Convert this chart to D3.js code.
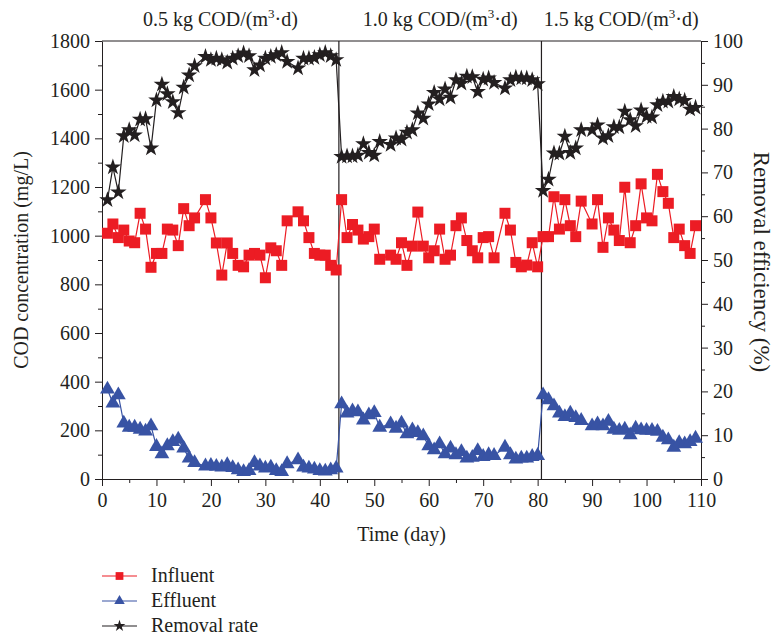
<!DOCTYPE html>
<html lang="en">

<head>
    <meta charset="utf-8">
    <title>COD concentration and removal efficiency</title>
    <script src="https://cdn.jsdelivr.net/npm/d3@7"></script>
    <style>
        body { margin: 0; background: #fff; }
        svg { font-family: "Liberation Serif", "Times New Roman", serif; }
        .axis path, .axis line { stroke: #231f20; }
        .axis text { font-size: 20px; fill: #231f20; font-family: "Liberation Serif", serif; }
    </style>
</head>

<body>
    <div id="chart"></div>
    <script>
        // days with measurements
        const days = [
            1, 2, 3, 4, 5, 6, 7, 8, 9, 10, 11, 12, 13, 14, 15, 16, 17,
            19, 20, 21, 22, 23, 24, 25, 26, 27, 28, 29, 30, 31, 32, 33, 34,
            36, 37, 38, 39, 40, 41, 42, 43, 44, 45, 46, 47, 48, 49, 50, 51,
            53, 54, 55, 56, 57, 58, 59, 60, 61, 62, 63, 64, 65, 66, 67, 68, 69, 70, 71, 72,
            74, 75, 76, 77, 78, 79, 80, 81, 82, 83, 84, 85, 86, 87, 88,
            90, 91, 92, 93, 94, 95, 96, 97, 98, 99, 100, 101, 102, 103, 104, 105, 106, 107, 108, 109
        ];
        // mg/L
        const influent = [
            1010, 1048, 992, 1023, 978, 971, 1092, 1027, 870, 927, 927, 1027, 1023, 959, 1111, 1041, 1073,
            1148, 1073, 970, 838, 970, 927, 878, 872, 920, 927, 920, 827, 950, 938, 878, 1061,
            1098, 1061, 992, 927, 920, 920, 878, 859, 1148, 992, 1046, 1023, 986, 996, 1027, 903,
            920, 903, 971, 878, 957, 1097, 957, 909, 938, 1027, 903, 920, 1041, 1073, 980, 938, 909, 992, 996, 909,
            1092, 1023, 890, 872, 879, 971, 872, 996, 996, 1160, 1027, 1148, 1041, 996, 1142,
            1048, 1148, 952, 1073, 1023, 980, 1199, 971, 1041, 1213, 1073, 1061, 1252, 1181, 1133, 992, 1027, 959, 927, 1041
        ];
        const effluent = [
            369, 311, 345, 229, 212, 212, 204, 196, 218, 133, 103, 136, 153, 163, 126, 85, 67,
            53, 55, 51, 48, 58, 46, 37, 30, 34, 67, 53, 44, 48, 34, 30, 62,
            78, 48, 44, 40, 34, 32, 37, 44, 308, 270, 279, 275, 242, 263, 272, 212,
            226, 208, 229, 185, 201, 190, 177, 136, 119, 144, 103, 126, 99, 112, 85, 88, 116, 92, 99, 96,
            130, 99, 81, 85, 85, 92, 96, 345, 325, 300, 270, 256, 270, 252, 240,
            218, 226, 218, 236, 204, 199, 204, 181, 208, 201, 199, 199, 195, 171, 160, 130, 149, 144, 153, 167
        ];
        // %
        const removal_rate = [
            63.7, 71.2, 65.5, 78.3, 79.7, 78.5, 82.1, 82.2, 75.5, 86.5, 90.1, 87.9, 86.1, 83.6, 89.4, 92.2, 94.3,
            96.4, 95.7, 96.0, 95.7, 95.1, 96.0, 96.6, 97.2, 96.6, 93.4, 94.5, 96.0, 96.4, 96.8, 97.3, 95.3,
            93.8, 96.0, 96.0, 96.2, 96.8, 97.3, 96.6, 95.7, 73.6, 73.7, 73.7, 73.9, 76.5, 74.5, 73.9, 77.0,
            76.3, 77.8, 77.5, 79.1, 79.7, 83.5, 82.3, 85.6, 88.2, 86.7, 89.0, 87.1, 91.1, 90.3, 91.9, 91.8, 88.4, 91.2, 91.5, 90.5,
            89.2, 91.1, 91.7, 91.5, 91.5, 91.1, 90.2, 65.8, 68.4, 74.4, 74.3, 78.2, 74.5, 75.5, 79.7,
            79.7, 80.8, 77.8, 78.3, 80.4, 80.3, 83.9, 82.0, 80.6, 84.2, 82.8, 82.6, 85.4, 86.2, 86.2, 87.3, 86.7, 86.4, 84.4, 84.8
        ];

        // loading-rate phases
        const phase_breaks = [43.5, 80.7];
        const phase_rates = ['0.5', '1.0', '1.5'];

        const x_ticks = d3.range(0, 111, 10);
        const left_ticks = d3.range(0, 1801, 200);
        const right_ticks = d3.range(0, 101, 10);

        const width = 773, height = 639;
        const plot = {left: 102, right: 701, top: 41, bottom: 479};
        const ink = '#231f20';
        const colors = {Influent: '#ec1c24', Effluent: '#3853a4', 'Removal rate': '#231f20'};

        const svg = d3.select('#chart')
            .append('svg')
                .attr('width', width)
                .attr('height', height);

        const x = d3.scaleLinear().domain([0, 110]).range([plot.left, plot.right]);
        const y_left = d3.scaleLinear().domain([0, 1800]).range([plot.bottom, plot.top]);
        const y_right = d3.scaleLinear().domain([0, 100]).range([plot.bottom, plot.top]);

        // minor ticks first, then major axes with labels
        svg.append('g')
            .attr('class', 'axis')
            .attr('transform', `translate(0, ${plot.bottom})`)
            .call(d3.axisBottom(x).tickValues(d3.range(5, 110, 10)).tickSize(4).tickFormat(''))
            .call(g => g.select('.domain').remove());
        svg.append('g')
            .attr('class', 'axis')
            .attr('transform', `translate(${plot.left}, 0)`)
            .call(d3.axisLeft(y_left).tickValues(d3.range(100, 1800, 200)).tickSize(4).tickFormat(''))
            .call(g => g.select('.domain').remove());
        svg.append('g')
            .attr('class', 'axis')
            .attr('transform', `translate(${plot.right}, 0)`)
            .call(d3.axisRight(y_right).tickValues(d3.range(5, 100, 10)).tickSize(4).tickFormat(''))
            .call(g => g.select('.domain').remove());

        svg.append('g')
            .attr('class', 'axis')
            .attr('transform', `translate(0, ${plot.bottom})`)
            .call(d3.axisBottom(x).tickValues(x_ticks).tickFormat(d3.format('d'))
                .tickSizeInner(7).tickSizeOuter(0).tickPadding(7));
        svg.append('g')
            .attr('class', 'axis')
            .attr('transform', `translate(${plot.left}, 0)`)
            .call(d3.axisLeft(y_left).tickValues(left_ticks).tickFormat(d3.format('d'))
                .tickSizeInner(7).tickSizeOuter(0).tickPadding(5));
        svg.append('g')
            .attr('class', 'axis')
            .attr('transform', `translate(${plot.right}, 0)`)
            .call(d3.axisRight(y_right).tickValues(right_ticks).tickFormat(d3.format('d'))
                .tickSizeInner(7).tickSizeOuter(0).tickPadding(5));

        // top frame line
        svg.append('line')
            .attr('x1', plot.left).attr('x2', plot.right)
            .attr('y1', plot.top).attr('y2', plot.top)
            .attr('stroke', ink);

        // phase separators
        svg.selectAll('line.phase')
            .data(phase_breaks)
            .join('line')
                .attr('class', 'phase')
                .attr('x1', d => x(d)).attr('x2', d => x(d))
                .attr('y1', plot.top).attr('y2', plot.bottom)
                .attr('stroke', ink)
                .attr('stroke-width', 1.2);

        // phase labels, centred in each phase
        const bounds = [0, ...phase_breaks, 110];
        const phase_label = svg.selectAll('text.phase')
            .data(phase_rates)
            .join('text')
                .attr('class', 'phase')
                .attr('x', (d, i) => x((bounds[i] + bounds[i + 1]) / 2))
                .attr('y', 26)
                .attr('text-anchor', 'middle')
                .attr('font-size', 20)
                .attr('fill', ink);
        phase_label.append('tspan').text(d => `${d} kg COD/(m`);
        phase_label.append('tspan').attr('dy', -8).attr('font-size', 13).text('3');
        phase_label.append('tspan').attr('dy', 8).text('\u00b7d)');

        // axis titles
        svg.append('text')
            .attr('transform', `translate(28, ${(plot.top + plot.bottom) / 2}) rotate(-90)`)
            .attr('text-anchor', 'middle')
            .attr('font-size', 20)
            .attr('fill', ink)
            .text('COD concentration (mg/L)');
        svg.append('text')
            .attr('transform', `translate(754, ${(plot.top + plot.bottom) / 2 + 2}) rotate(90)`)
            .attr('text-anchor', 'middle')
            .attr('font-size', 23)
            .attr('fill', ink)
            .text('Removal efficiency (%)');
        svg.append('text')
            .attr('x', (plot.left + plot.right) / 2)
            .attr('y', 541)
            .attr('text-anchor', 'middle')
            .attr('font-size', 20)
            .attr('fill', ink)
            .text('Time (day)');

        // series
        const series = [
            {name: 'Influent', values: influent, y: y_left, symbol: d3.symbolSquare, size: 121},
            {name: 'Effluent', values: effluent, y: y_left, symbol: d3.symbolTriangle, size: 95},
            {name: 'Removal rate', values: removal_rate, y: y_right, symbol: d3.symbolStar, size: 85}
        ];

        series.forEach(s => {
            const pts = days.map((d, i) => [x(d), s.y(s.values[i])]);
            svg.append('path')
                .attr('d', d3.line()(pts))
                .attr('fill', 'none')
                .attr('stroke', colors[s.name])
                .attr('stroke-width', 1.2);
            svg.append('g')
                .selectAll('path')
                .data(pts)
                .join('path')
                    .attr('transform', d => `translate(${d[0]}, ${d[1]})`)
                    .attr('d', d3.symbol(s.symbol, s.size))
                    .attr('fill', colors[s.name]);
        });

        // legend
        const legend = svg.append('g')
            .selectAll('g')
            .data(series)
            .join('g')
                .attr('transform', (d, i) => `translate(0, ${576 + i * 25})`);
        legend.append('line')
            .attr('x1', 102).attr('x2', 137)
            .attr('stroke', d => colors[d.name])
            .attr('stroke-width', 1.2);
        legend.append('path')
            .attr('transform', 'translate(119.5, 0)')
            .attr('d', d => d3.symbol(d.symbol, d.size * 0.5)())
            .attr('fill', d => colors[d.name]);
        legend.append('text')
            .attr('x', 151)
            .attr('y', 6)
            .attr('font-size', 20)
            .attr('fill', ink)
            .text(d => d.name);
    </script>
</body>

</html>
